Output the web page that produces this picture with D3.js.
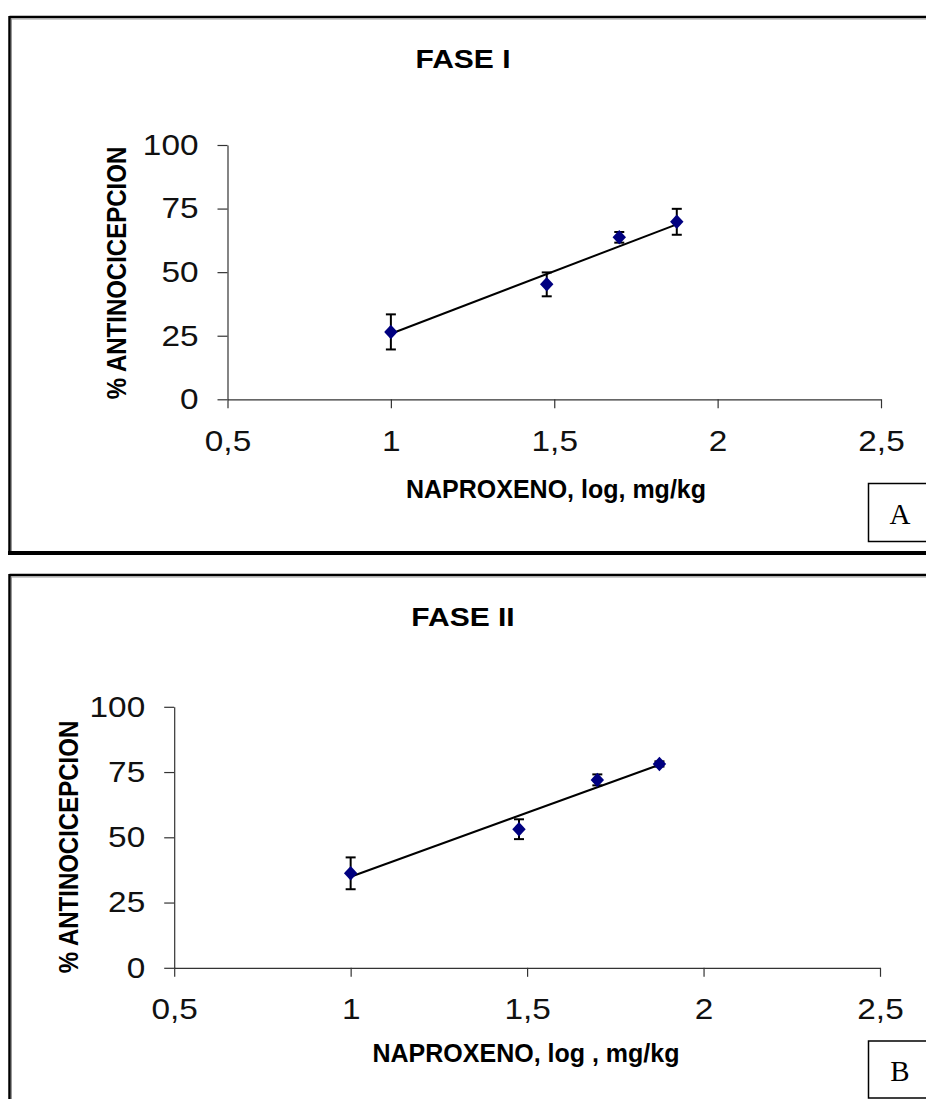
<!DOCTYPE html>
<html>
<head>
<meta charset="utf-8">
<script src="https://cdn.jsdelivr.net/npm/d3@7"></script>
<style>
  html, body { margin: 0; padding: 0; background: #fff; }
  svg { display: block; }
</style>
</head>
<body>
<svg id="chart" width="926" height="1099"></svg>
<script>
// ---------------- data ----------------
const doseLog = [1, 1.477, 1.699, 1.875];
const faseIMean = [26.5, 45.2, 63.7, 69.8];
const faseIErr = [6.9, 4.7, 2.1, 5.1];
const faseIIMean = [36.2, 53.1, 72.0, 78.1];
const faseIIErr = [6.1, 3.8, 2.1, 1.0];
const trendX = [1, 1.875];
const trendIY = [25.8, 68.8];
const trendIIY = [34.9, 77.8];
const xTicks = [0.5, 1, 1.5, 2, 2.5];
const xTickLabels = ["0,5", "1", "1,5", "2", "2,5"];
const yTicks = [0, 25, 50, 75, 100];
const panelTitles = ["FASE I", "FASE II"];
const xTitles = ["NAPROXENO, log, mg/kg", "NAPROXENO, log , mg/kg"];
const yTitle = "% ANTINOCICEPCION";
const panelLetters = ["A", "B"];

// ---------------- layout ----------------
const svg = d3.select("#chart");
const SX = 1.15; // horizontal text stretch seen in the reference

const panels = [
  { mean: faseIMean, err: faseIErr, trend: trendIY,
    top: 17, bottom: 553, xr: [227.5, 881], yr: [399.3, 145],
    titleY: 68, yTitleX: 116, yTitleY: 273, xTitleX: 556, xTitleY: 498,
    box: [868.5, 483.5, 58], letterY: 524 },
  { mean: faseIIMean, err: faseIIErr, trend: trendIIY,
    top: 575, bottom: null, xr: [174.2, 880], yr: [967.8, 706.8],
    titleY: 626, yTitleX: 68, yTitleY: 847, xTitleX: 526, xTitleY: 1062,
    box: [868.5, 1041, 57], letterY: 1081 }
];

function stretchedText(g, x, y, txt, opts) {
  const t = g.append("text")
    .attr("transform", `translate(${x},${y}) scale(${opts.sx || 1},1)` + (opts.rot ? ` rotate(${opts.rot})` : ""))
    .attr("text-anchor", opts.anchor || "middle")
    .attr("font-family", opts.family || "'Liberation Sans', Arial, sans-serif")
    .attr("font-size", opts.size)
    .attr("font-weight", opts.weight || "normal")
    .attr("fill", opts.fill || "#000")
    .text(txt);
  return t;
}

panels.forEach((p, i) => {
  const g = svg.append("g");

  // panel frame
  const bottom = p.bottom === null ? 1110 : p.bottom;
  g.append("line").attr("x1", 9.5).attr("x2", 940).attr("y1", p.top).attr("y2", p.top)
    .attr("stroke", "#000").attr("stroke-width", 2.5);
  g.append("line").attr("x1", 11).attr("x2", 940).attr("y1", p.top + 2).attr("y2", p.top + 2)
    .attr("stroke", "#999").attr("stroke-width", 1);
  g.append("line").attr("x1", 9.5).attr("x2", 9.5).attr("y1", p.top - 1).attr("y2", bottom)
    .attr("stroke", "#000").attr("stroke-width", 2.5);
  g.append("line").attr("x1", 11.5).attr("x2", 11.5).attr("y1", p.top + 1).attr("y2", bottom)
    .attr("stroke", "#999").attr("stroke-width", 1);
  if (p.bottom !== null) {
    g.append("line").attr("x1", 8).attr("x2", 940).attr("y1", p.bottom).attr("y2", p.bottom)
      .attr("stroke", "#000").attr("stroke-width", 3.8);
  }

  const x = d3.scaleLinear().domain([0.5, 2.5]).range(p.xr);
  const y = d3.scaleLinear().domain([0, 100]).range(p.yr);

  // axes
  const yAxis = d3.axisLeft(y).tickValues(yTicks).tickSize(10).tickSizeOuter(0)
    .tickPadding(19).tickFormat(d3.format("d"));
  const xAxis = d3.axisBottom(x).tickValues(xTicks).tickSize(9).tickSizeOuter(0)
    .tickPadding(22).tickFormat((d, k) => xTickLabels[k]);

  const gy = g.append("g").attr("transform", `translate(${p.xr[0]},0)`).call(yAxis);
  const gx = g.append("g").attr("transform", `translate(0,${p.yr[0]})`).call(xAxis);
  [gx, gy].forEach(ax => {
    ax.select(".domain").attr("stroke", "#333").attr("stroke-width", 1.2);
    ax.selectAll(".tick line").attr("stroke", "#333").attr("stroke-width", 1.2);
    ax.selectAll(".tick text")
      .attr("font-family", "'Liberation Sans', Arial, sans-serif")
      .attr("font-size", 29).attr("fill", "#111");
  });
  gy.selectAll(".tick text").each(function () {
    const t = d3.select(this);
    const xx = +t.attr("x");
    t.attr("x", xx / SX).attr("transform", `scale(${SX},1)`);
  });
  gx.selectAll(".tick text").attr("transform", `scale(${SX},1)`);

  // titles
  stretchedText(g, 463, p.titleY, panelTitles[i], { size: 25, weight: "bold", sx: 1.2 });
  stretchedText(g, p.xTitleX, p.xTitleY, xTitles[i], { size: 25, weight: "bold", sx: 1.0 });
  stretchedText(g, p.yTitleX, p.yTitleY, yTitle, { size: 24, weight: "bold", rot: -90, sx: 1.15 })
    .attr("dy", "0.36em");

  // letter box
  g.append("rect").attr("x", p.box[0]).attr("y", p.box[1]).attr("width", 80).attr("height", p.box[2])
    .attr("fill", "#fff").attr("stroke", "#000").attr("stroke-width", 1.5);
  stretchedText(g, 900, p.letterY, panelLetters[i],
    { size: 29, family: "'Liberation Serif', 'Times New Roman', serif" });

  // trend line
  const line = d3.line().x(d => x(d[0])).y(d => y(d[1]));
  g.append("path").datum(trendX.map((v, k) => [v, p.trend[k]]))
    .attr("d", line).attr("fill", "none").attr("stroke", "#000").attr("stroke-width", 2);

  // error bars
  const pts = doseLog.map((d, k) => ({ x: d, m: p.mean[k], e: p.err[k] }));
  const eb = g.append("g").attr("stroke", "#000").attr("stroke-width", 2);
  pts.forEach(d => {
    eb.append("line").attr("x1", x(d.x)).attr("x2", x(d.x)).attr("y1", y(d.m - d.e)).attr("y2", y(d.m + d.e));
    [d.m - d.e, d.m + d.e].forEach(v => {
      eb.append("line").attr("x1", x(d.x) - 5).attr("x2", x(d.x) + 5).attr("y1", y(v)).attr("y2", y(v));
    });
  });

  // diamond markers
  g.append("g").selectAll("path").data(pts).join("path")
    .attr("d", d3.symbol(d3.symbolSquare, 90)())
    .attr("transform", d => `translate(${x(d.x)},${y(d.m)}) scale(1,1.08) rotate(45)`)
    .attr("fill", "#000080");
});
</script>
</body>
</html>
